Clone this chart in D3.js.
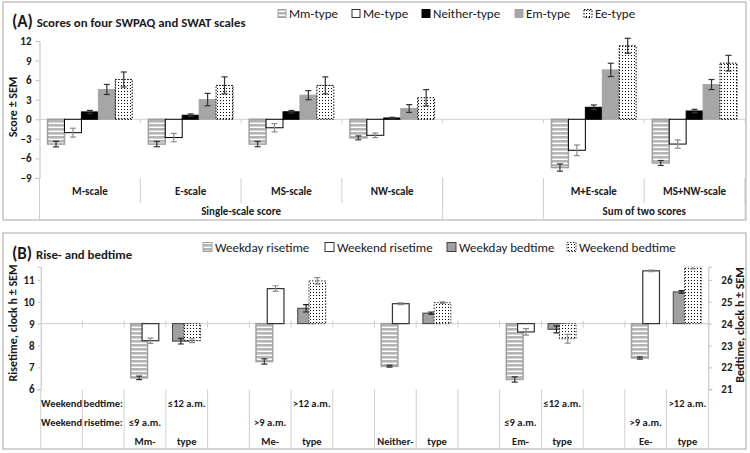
<!DOCTYPE html>
<html>
<head>
<meta charset="utf-8">
<script src="https://cdnjs.cloudflare.com/ajax/libs/d3/7.8.5/d3.min.js"></script>
<style>
body { margin: 0; background: #fff; }
svg text { font-family: Carlito, Lato, "Liberation Sans", sans-serif; fill: #1a1a1a; }
</style>
</head>
<body>
<svg id="svg" width="750" height="453"></svg>
<script>
//panel A: categories and series
const SCALES_A = ["M-scale", "E-scale", "MS-scale", "NW-scale", "gap", "M+E-scale", "MS+NW-scale"];
const GROUPS_A = [["Single-scale score", 0, 3], ["", 4, 4], ["Sum of two scores", 5, 6]];
const TYPES_A = ["Mm-type", "Me-type", "Neither-type", "Em-type", "Ee-type"];
const mmScore = [-3.8, -3.8, -3.8, -2.85, null, -7.4, -6.7];
const mmSem = [0.43, 0.4, 0.4, 0.3, null, 0.55, 0.38];
const meScore = [-2.05, -2.8, -1.3, -2.45, null, -4.75, -3.8];
const meSem = [0.68, 0.64, 0.64, 0.35, null, 0.82, 0.64];
const neitherScore = [1.13, 0.62, 1.15, 0.2, null, 1.84, 1.27];
const neitherSem = [0.23, 0.2, 0.2, 0.1, null, 0.36, 0.26];
const emScore = [4.57, 3.02, 3.7, 1.65, null, 7.57, 5.33];
const emSem = [0.77, 0.95, 0.7, 0.6, null, 1.02, 0.77];
const eeScore = [6.1, 5.2, 5.2, 3.3, null, 11.26, 8.6];
const eeSem = [1.15, 1.3, 1.3, 1.25, null, 1.15, 1.2];
const TICKS_A = [-9, -6, -3, 0, 3, 6, 9, 12];

//panel B: categories and series
const TYPES_B = ["Mm", "Me", "Neither", "Em", "Ee"];
const SERIES_B = ["Weekday risetime", "Weekend risetime", "Weekday bedtime", "Weekend bedtime"];
const wdRise = [6.52, 7.27, 7.05, 6.45, 7.43];
const wdRiseSem = [0.08, 0.12, 0.04, 0.12, 0.05];
const weRise = [8.22, 10.6, 9.91, 8.62, 11.41];
const weRiseSem = [0.12, 0.13, 0.04, 0.15, 0.04];
const wdBed = [23.2, 24.7, 24.48, 23.74, 25.45];
const wdBedSem = [0.13, 0.17, 0.05, 0.16, 0.06];
const weBed = [23.22, 25.95, 24.96, 23.31, 26.6];
const weBedSem = [0.09, 0.15, 0.04, 0.2, 0.1];
const TICKS_RISE = [6, 7, 8, 9, 10, 11];
const TICKS_BED = [21, 22, 23, 24, 25, 26];
//table below panel B, one entry per column
const ROW_BED = ["Weekend", "bedtime:", "", "\u226412 a.m.", "", "", ">12 a.m.", "", "", "", "", "", "\u226412 a.m.", "", "", ">12 a.m."];
const ROW_RISE = ["Weekend", "risetime:", "\u22649 a.m.", "", "", ">9 a.m.", "", "", "", "", "", "\u22649 a.m.", "", "", ">9 a.m.", ""];
const ROW_TYPE = ["", "", "Mm-", "type", "", "Me-", "type", "", "Neither-", "type", "", "Em-", "type", "", "Ee-", "type"];

const LINE = "#d0d0d0";
var svg = d3.select("#svg");

//patterns
var defs = svg.append("defs");
var stripe = defs.append("pattern").attr("id", "stripe")
        .attr("patternUnits", "userSpaceOnUse").attr("width", 4).attr("height", 4);
stripe.append("rect").attr("width", 4).attr("height", 4).attr("fill", "#fff");
stripe.append("rect").attr("width", 4).attr("height", 2.6).attr("fill", "#b4b4b4");
var dots = defs.append("pattern").attr("id", "dots")
        .attr("patternUnits", "userSpaceOnUse").attr("width", 3).attr("height", 3);
dots.append("rect").attr("width", 3).attr("height", 3).attr("fill", "#fff");
dots.append("rect").attr("x", 1).attr("y", 1).attr("width", 1).attr("height", 1).attr("fill", "#000");

//bar styles per series
const STYLE_A = [
    {fill: "url(#stripe)", stroke: "#a0a0a0", sw: 1.5, dash: null, err: "#333"},
    {fill: "#fff", stroke: "#000", sw: 1, dash: null, err: "#8c8c8c"},
    {fill: "#000", stroke: "#000", sw: 1, dash: null, err: "#333"},
    {fill: "#a6a6a6", stroke: "#a6a6a6", sw: 1, dash: null, err: "#333"},
    {fill: "url(#dots)", stroke: "#000", sw: 1, dash: "1.5,1.5", err: "#333"}
];
const STYLE_B = [STYLE_A[0], {fill: "#fff", stroke: "#333", sw: 1.2, dash: null, err: "#8c8c8c"},
    {fill: "#a0a0a0", stroke: "#404040", sw: 1, dash: null, err: "#222"},
    {fill: "url(#dots)", stroke: "#333", sw: 1, dash: "1.5,1.5", err: "#8c8c8c"}];

function errorBar(g, x, y0, y1, color) {
    g.append("line").attr("x1", x).attr("x2", x).attr("y1", y0).attr("y2", y1)
            .attr("stroke", color).attr("stroke-width", 1.2);
    [y0, y1].forEach((yy) => {
        g.append("line").attr("x1", x - 3).attr("x2", x + 3).attr("y1", yy).attr("y2", yy)
                .attr("stroke", color).attr("stroke-width", 1.2);
    });
}

function legend(items, xs, y, size, fontSize, styles) {
    items.forEach((name, i) => {
        var st = styles[i];
        svg.append("rect").attr("x", xs[i]).attr("y", y - size / 2).attr("width", size).attr("height", size)
                .attr("fill", st.fill).attr("stroke", st.fill === "#fff" ? "#333" : st.stroke)
                .attr("stroke-width", 1).attr("stroke-dasharray", st.dash);
        svg.append("text").attr("x", xs[i] + size + 3).attr("y", y + fontSize * 0.36)
                .style("font-size", fontSize + "px").text(name);
    });
}

function styleAxis(ax) {
    ax.select(".domain").attr("stroke", "#bfbfbf");
    ax.selectAll(".tick line").attr("stroke", "#bfbfbf");
    ax.selectAll(".tick text").style("font-size", "11px").style("font-weight", "bold")
            .style("font-family", "Carlito, Lato, sans-serif").attr("fill", "#1a1a1a");
}

//================ PANEL A ================
svg.append("rect").attr("x", 3).attr("y", 2).attr("width", 743).attr("height", 218)
        .attr("fill", "none").attr("stroke", "#a6a6a6");

var xA = d3.scaleBand().domain(SCALES_A).range([39.5, 745]);
var subA = d3.scaleBand().domain(TYPES_A).range([xA.bandwidth() * 0.08, xA.bandwidth() * 0.92]);
var yA = d3.scaleLinear().domain([-9, 12]).range([178, 41]);

//axis
var axA = svg.append("g").attr("transform", "translate(39.5,0)")
        .call(d3.axisLeft(yA).tickValues(TICKS_A).tickSize(4).tickPadding(4).tickFormat(d3.format("d")));
styleAxis(axA);

//zero line with ticks
svg.append("line").attr("x1", 39.5).attr("x2", 745).attr("y1", yA(0)).attr("y2", yA(0)).attr("stroke", LINE);
SCALES_A.forEach((s) => {
    svg.append("line").attr("x1", xA(s) + xA.bandwidth()).attr("x2", xA(s) + xA.bandwidth())
            .attr("y1", yA(0)).attr("y2", yA(0) + 4).attr("stroke", LINE);
});

//bars
var seriesA = [[mmScore, mmSem], [meScore, meSem], [neitherScore, neitherSem], [emScore, emSem], [eeScore, eeSem]];
var barsA = svg.append("g");
seriesA.forEach((ser, j) => {
    var st = STYLE_A[j];
    SCALES_A.forEach((s, i) => {
        var v = ser[0][i];
        if (v === null) return;
        var x = xA(s) + subA(TYPES_A[j]);
        barsA.append("rect").attr("x", x).attr("width", subA.bandwidth())
                .attr("y", yA(Math.max(0, v))).attr("height", Math.abs(yA(v) - yA(0)))
                .attr("fill", st.fill).attr("stroke", st.stroke).attr("stroke-width", st.sw)
                .attr("stroke-dasharray", st.dash);
        errorBar(barsA, x + subA.bandwidth() / 2, yA(v - ser[1][i]), yA(v + ser[1][i]), st.err);
    });
});

//category table
SCALES_A.forEach((s, i) => {
    var x1 = xA(s) + xA.bandwidth();
    svg.append("line").attr("x1", x1).attr("x2", x1).attr("y1", 178).attr("y2", 203).attr("stroke", LINE);
    if (s !== "gap") {
        svg.append("text").attr("x", xA(s) + xA.bandwidth() / 2).attr("y", 195)
                .attr("text-anchor", "middle").style("font-size", "11px").style("font-weight", "bold").text(s);
    }
});
svg.append("line").attr("x1", 39.5).attr("x2", 39.5).attr("y1", 178).attr("y2", 220).attr("stroke", LINE);
GROUPS_A.forEach((g) => {
    var a = xA(SCALES_A[g[1]]), b = xA(SCALES_A[g[2]]) + xA.bandwidth();
    svg.append("line").attr("x1", b).attr("x2", b).attr("y1", 178).attr("y2", 220).attr("stroke", LINE);
    svg.append("text").attr("x", (a + b) / 2).attr("y", 215).attr("text-anchor", "middle")
            .style("font-size", "11px").style("font-weight", "bold").text(g[0]);
});

//titles
var tA = svg.append("text").attr("x", 12).attr("y", 27).style("font-weight", "bold");
tA.append("tspan").style("font-size", "17px").text("(A) ");
tA.append("tspan").style("font-size", "12.8px").text("Scores on four SWPAQ and SWAT scales");
svg.append("text").attr("transform", "translate(17,107) rotate(-90)").attr("text-anchor", "middle")
        .style("font-size", "12px").style("font-weight", "bold").text("Score \u00b1 SEM");
legend(TYPES_A, [278, 352, 422, 515, 584], 13.5, 8, 13, STYLE_A);

//================ PANEL B ================
svg.append("rect").attr("x", 3).attr("y", 233).attr("width", 743).attr("height", 216)
        .attr("fill", "none").attr("stroke", "#a6a6a6");

var cols = d3.range(16);
var xB = d3.scaleBand().domain(cols).range([40.7, 708.3]);
var bw = xB.bandwidth();
var yRise = d3.scaleLinear().domain([6, 11.6]).range([389.3, 266.7]);
var yBed = d3.scaleLinear().domain([21, 26.6]).range([389.3, 266.7]);

defs.append("clipPath").attr("id", "clipB").append("rect")
        .attr("x", 40.7).attr("y", 266.7).attr("width", 667.6).attr("height", 122.6);

var axL = svg.append("g").attr("transform", "translate(40.7,0)")
        .call(d3.axisLeft(yRise).tickValues(TICKS_RISE).tickSize(3).tickPadding(3).tickFormat(d3.format("d")));
var axR = svg.append("g").attr("transform", "translate(708.3,0)")
        .call(d3.axisRight(yBed).tickValues(TICKS_BED).tickSize(4).tickPadding(9).tickFormat(d3.format("d")));
styleAxis(axL);
styleAxis(axR);

//baseline at 9 h / 24 h
svg.append("line").attr("x1", 40.7).attr("x2", 708.3).attr("y1", yRise(9)).attr("y2", yRise(9)).attr("stroke", LINE);
cols.forEach((c) => {
    svg.append("line").attr("x1", xB(c) + bw).attr("x2", xB(c) + bw)
            .attr("y1", yRise(9) - 3).attr("y2", yRise(9) + 4).attr("stroke", LINE);
});

var barsB = svg.append("g").attr("clip-path", "url(#clipB)");
var seriesB = [[wdRise, wdRiseSem, yRise, 9, 0, 0.16], [weRise, weRiseSem, yRise, 9, 0, 0.43],
    [wdBed, wdBedSem, yBed, 24, 1, 0.16], [weBed, weBedSem, yBed, 24, 1, 0.43]];
seriesB.forEach((ser, j) => {
    var st = STYLE_B[j], y = ser[2], base = ser[3];
    TYPES_B.forEach((t, i) => {
        var v = ser[0][i];
        var x = xB(2 + 3 * i + ser[4]) + bw * ser[5];
        barsB.append("rect").attr("x", x).attr("width", bw * 0.4)
                .attr("y", y(Math.max(base, v))).attr("height", Math.abs(y(v) - y(base)))
                .attr("fill", st.fill).attr("stroke", st.stroke).attr("stroke-width", st.sw)
                .attr("stroke-dasharray", st.dash);
    });
    TYPES_B.forEach((t, i) => {
        var v = ser[0][i];
        var x = xB(2 + 3 * i + ser[4]) + bw * ser[5] + bw * 0.2;
        errorBar(barsB, x, y(v - ser[1][i]), y(v + ser[1][i]), st.err);
    });
});

//table below panel B
svg.append("line").attr("x1", 40.7).attr("x2", 40.7).attr("y1", 389.3).attr("y2", 449).attr("stroke", LINE);
cols.forEach((c) => {
    var xe = xB(c) + bw;
    svg.append("line").attr("x1", xe).attr("x2", xe).attr("y1", 389.3).attr("y2", 449).attr("stroke", LINE);
    [[ROW_BED, 407], [ROW_RISE, 426], [ROW_TYPE, 445]].forEach((r) => {
        if (r[0][c] === "") return;
        svg.append("text").attr("x", xB(c) + bw / 2).attr("y", r[1]).attr("text-anchor", "middle")
                .style("font-size", "10.5px").style("font-weight", "bold").text(r[0][c]);
    });
});

var tB = svg.append("text").attr("x", 12).attr("y", 259).style("font-weight", "bold");
tB.append("tspan").style("font-size", "17px").text("(B) ");
tB.append("tspan").style("font-size", "12.8px").text("Rise- and bedtime");
svg.append("text").attr("transform", "translate(17,323) rotate(-90)").attr("text-anchor", "middle")
        .style("font-size", "12px").style("font-weight", "bold").text("Risetime, clock h \u00b1 SEM");
svg.append("text").attr("transform", "translate(744,325) rotate(-90)").attr("text-anchor", "middle")
        .style("font-size", "12px").style("font-weight", "bold").text("Bedtime, clock h \u00b1 SEM");
legend(SERIES_B, [203, 325, 447, 567], 247, 9, 13, STYLE_B);
</script>
</body>
</html>
